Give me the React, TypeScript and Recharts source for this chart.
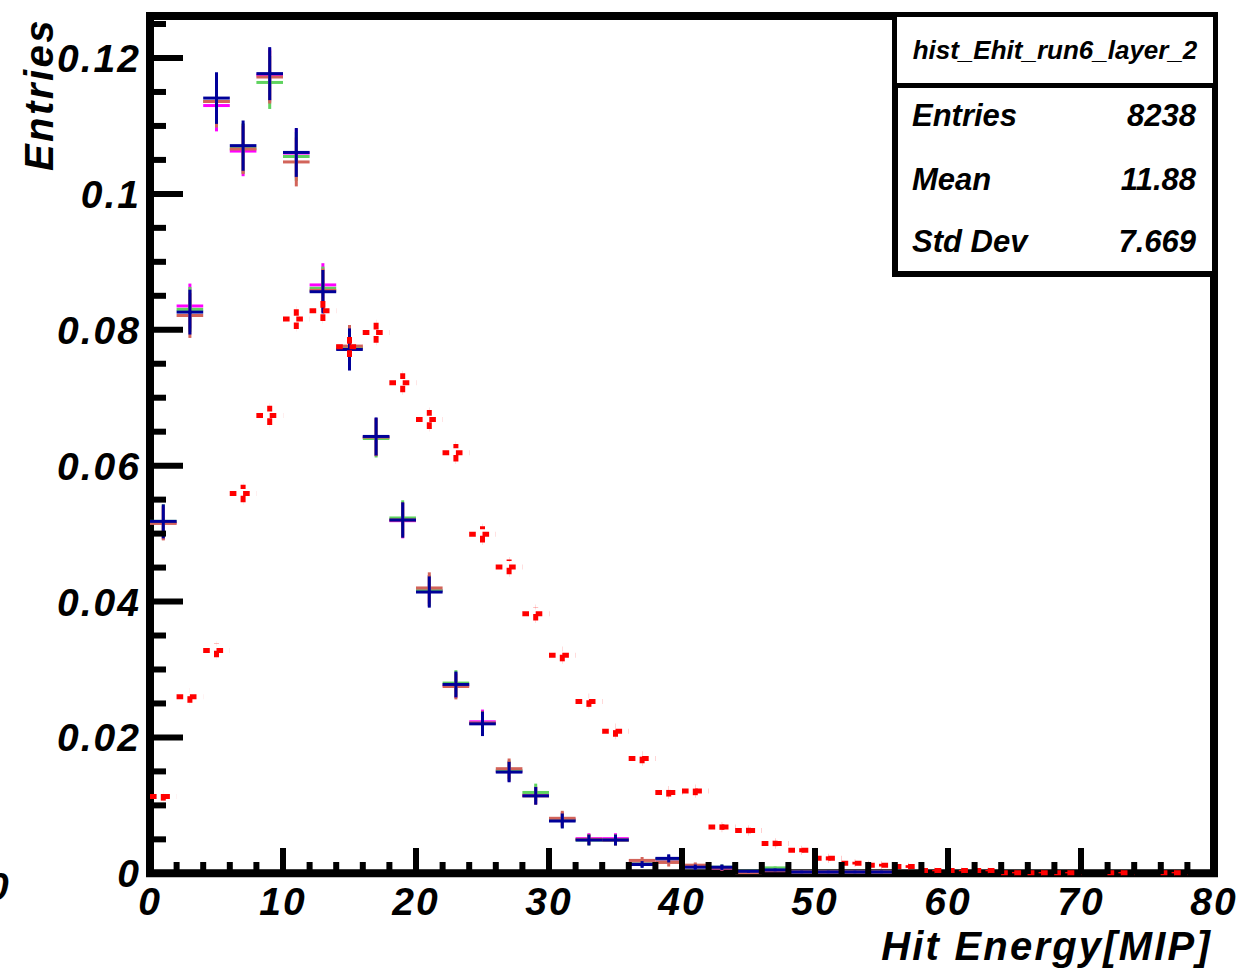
import React from 'react';
import { ComposedChart, Scatter, XAxis, YAxis, ErrorBar, ReferenceArea } from 'recharts';

// ---------- data ----------
const binCenters = [1, 3, 5, 7, 9, 11, 13, 15, 17, 19, 21, 23, 25, 27, 29, 31, 33, 35, 37, 39, 41, 43, 45, 47, 49, 51, 53, 55, 57, 59, 61, 63, 65, 67, 69, 71, 73, 75, 77, 79];
const BIN_HALF_WIDTH = 1;

const magentaValues = [0.0516, 0.0835, 0.113, 0.1063, 0.1175, 0.106, 0.0866, 0.0773, 0.0642, 0.0519, 0.0416, 0.0277, 0.0223, 0.015, 0.0115, 0.0079, 0.0051, 0.0051, 0.0015, 0.002, 0.001, 0.0008, 0.0002, 0.0004, 0.0002, 0.0002, 0.0002, 0.0002, null, null, null, null, null, null, null, null, null, null, null, null];
const greenValues = [0.0518, 0.083, 0.1136, 0.1067, 0.1164, 0.1055, 0.0861, 0.0773, 0.064, 0.0523, 0.0416, 0.028, 0.0221, 0.0151, 0.0119, 0.0078, 0.0049, 0.0049, 0.0014, 0.0021, 0.001, 0.0009, 0.0003, 0.0008, 0.0002, 0.0002, 0.0002, 0.0002, null, null, null, null, null, null, null, null, null, null, null, null];
const salmonValues = [0.0515, 0.0821, 0.1136, 0.1066, 0.1172, 0.1047, 0.0858, 0.0776, 0.0642, 0.052, 0.042, 0.0275, 0.0221, 0.0154, 0.0114, 0.0081, 0.005, 0.0049, 0.0019, 0.0016, 0.0012, 0.0008, 0.0001, 0.0004, 0.0002, 0.0002, 0.0002, 0.0002, null, null, null, null, null, null, null, null, null, null, null, null];
const blueValues = [0.0518, 0.0826, 0.1141, 0.1071, 0.1177, 0.1061, 0.0856, 0.0771, 0.0643, 0.052, 0.0414, 0.0278, 0.022, 0.0149, 0.0114, 0.0077, 0.0049, 0.0049, 0.0013, 0.0022, 0.0009, 0.0009, 0.0003, 0.0005, 0.0002, 0.0002, 0.0002, 0.0002, null, null, null, null, null, null, null, null, null, null, null, null];
const pointErrors = [0.0025, 0.0033, 0.0038, 0.0037, 0.0039, 0.0036, 0.0032, 0.0031, 0.0028, 0.0026, 0.0023, 0.0019, 0.0018, 0.0015, 0.0013, 0.0011, 0.0008, 0.0008, 0.0005, 0.0006, 0.0004, 0.0004, 0.0002, 0.0002, 0.0002, 0.0002, 0.0002, 0.0002, null, null, null, null, null, null, null, null, null, null, null, null];

const redValues = [0.0113, 0.026, 0.0328, 0.0559, 0.0674, 0.0816, 0.0828, 0.0775, 0.0796, 0.0722, 0.0668, 0.0619, 0.0499, 0.0451, 0.0382, 0.0321, 0.0253, 0.0209, 0.0169, 0.0119, 0.0121, 0.0068, 0.0063, 0.0044, 0.0034, 0.0022, 0.0015, 0.0012, 0.001, 0.0004, 0.0004, 0.0004, 0.0001, 0.0001, 0.0001, null, 0.0001, null, 0.0001, null];
const redErrors = [0.0006, 0.0009, 0.001, 0.0013, 0.0014, 0.0015, 0.0015, 0.0015, 0.0015, 0.0014, 0.0014, 0.0013, 0.0012, 0.0011, 0.001, 0.0009, 0.0008, 0.0008, 0.0007, 0.0006, 0.0006, 0.0004, 0.0004, 0.0004, 0.0003, 0.0003, 0.0002, 0.0002, 0.0002, 0.0001, 0.0001, 0.0001, 0.0001, 0.0001, 0.0001, null, 0.0001, null, 0.0001, null];

const xTicks = [0, 2, 4, 6, 8, 10, 12, 14, 16, 18, 20, 22, 24, 26, 28, 30, 32, 34, 36, 38, 40, 42, 44, 46, 48, 50, 52, 54, 56, 58, 60, 62, 64, 66, 68, 70, 72, 74, 76, 78, 80];
const xMajorTicks = [0, 10, 20, 30, 40, 50, 60, 70, 80];
const xMajorLabels = ['0', '10', '20', '30', '40', '50', '60', '70', '80'];
const yTicks = [0, 0.005, 0.01, 0.015, 0.02, 0.025, 0.03, 0.035, 0.04, 0.045, 0.05, 0.055, 0.06, 0.065, 0.07, 0.075, 0.08, 0.085, 0.09, 0.095, 0.1, 0.105, 0.11, 0.115, 0.12, 0.125];
const yMajorTicks = [0, 0.02, 0.04, 0.06, 0.08, 0.1, 0.12];
const yMajorLabels = ['0', '0.02', '0.04', '0.06', '0.08', '0.1', '0.12'];

const X_DOMAIN: [number, number] = [0, 80];
const Y_DOMAIN: [number, number] = [0, 0.12618];

const statsTitle = 'hist_Ehit_run6_layer_2';
const statsLabels = ['Entries', 'Mean', 'Std Dev'];
const statsValues = ['8238', '11.88', '7.669'];

// ---------- helpers ----------
const FONT = "'Liberation Sans', Arial, Helvetica, sans-serif";

function buildSeries(values: (number | null)[], errors: (number | null)[]) {
  return binCenters
    .map((x, i) => ({ x, y: values[i], ey: errors[i], ex: BIN_HALF_WIDTH }))
    .filter((d) => d.y !== null && d.y !== undefined);
}

const magentaData = buildSeries(magentaValues, pointErrors);
const greenData = buildSeries(greenValues, pointErrors);
const salmonData = buildSeries(salmonValues, pointErrors);
const blueData = buildSeries(blueValues, pointErrors);
const redData = buildSeries(redValues, redErrors);

const EmptyShape = () => <g />;

const YTick = (props: any) => {
  const { x, y, payload } = props;
  const idx = yMajorTicks.indexOf(payload.value);
  const major = idx >= 0;
  return (
    <g>
      <line x1={x} x2={x + (major ? 33 : 16)} y1={y} y2={y} stroke="#000" strokeWidth={6} />
      {major && (
        <text x={x - 9} y={y + 14} textAnchor="end" fontFamily={FONT} fontSize={39} fontWeight="bold" fontStyle="italic" letterSpacing={2} fill="#000">
          {yMajorLabels[idx]}
        </text>
      )}
    </g>
  );
};

const XTick = (props: any) => {
  const { x, y, payload } = props;
  const idx = xMajorTicks.indexOf(payload.value);
  const major = idx >= 0;
  return (
    <g>
      <line x1={x} x2={x} y1={y} y2={y - (major ? 26 : 12)} stroke="#000" strokeWidth={6} />
      {major && (
        <text x={x} y={y + 41} textAnchor="middle" fontFamily={FONT} fontSize={39} fontWeight="bold" fontStyle="italic" letterSpacing={2} fill="#000">
          {xMajorLabels[idx]}
        </text>
      )}
    </g>
  );
};

const YTitle = (props: any) => {
  const vb = props.viewBox || { x: 0, y: 16 };
  const tx = vb.x + 53;
  const ty = vb.y + 2;
  return (
    <g>
      <text x={tx} y={ty} transform={`rotate(-90 ${tx} ${ty})`} textAnchor="end" fontFamily={FONT} fontSize={40} fontStyle="italic" fontWeight="bold" letterSpacing={2.5} fill="#000">
        Entries
      </text>
      <text x={vb.x - 13} y={vb.y + 884} fontFamily={FONT} fontSize={39} fontWeight="bold" fontStyle="italic" fill="#000">
        0
      </text>
    </g>
  );
};

const XTitle = (props: any) => {
  const vb = props.viewBox || { x: 150, y: 874, width: 1064, height: 97 };
  return (
    <text x={vb.x + vb.width - 2} y={vb.y + 86} textAnchor="end" fontFamily={FONT} fontSize={40} fontStyle="italic" fontWeight="bold" letterSpacing={2.2} fill="#000">
      Hit Energy[MIP]
    </text>
  );
};

function HistSeries({ data, color, dashed }: { data: any[]; color: string; dashed?: boolean }) {
  const dash = dashed ? '6.6 6.7' : undefined;
  const sw = dashed ? 5 : 3;
  return (
    <Scatter data={data} dataKey="y" isAnimationActive={false} shape={EmptyShape} zIndex={800}>
      <ErrorBar dataKey="ex" direction="x" width={0} stroke={color} strokeWidth={sw} strokeDasharray={dash} isAnimationActive={false} zIndex={800} />
      <ErrorBar dataKey="ey" direction="y" width={0} stroke={color} strokeWidth={sw} strokeDasharray={dash} isAnimationActive={false} zIndex={800} />
    </Scatter>
  );
}

export default function App() {
  const statsRowY = [116, 180, 242];
  return (
    <div style={{ position: 'absolute', left: 0, top: 0, width: 1243, height: 971, background: '#fff', overflow: 'hidden' }}>
      <ComposedChart width={1243} height={971} margin={{ top: 16, right: 29, bottom: 0, left: 0 }}>
        <ReferenceArea x1={0} x2={80} y1={Y_DOMAIN[0]} y2={Y_DOMAIN[1]} fill="none" stroke="#000" strokeWidth={8} ifOverflow="visible" zIndex={-10} />
        <XAxis
          type="number"
          dataKey="x"
          domain={X_DOMAIN}
          ticks={xTicks}
          interval={0}
          tickSize={0}
          tickMargin={0}
          tick={XTick}
          tickLine={false}
          axisLine={false}
          height={97}
          label={<XTitle />}
        />
        <YAxis
          type="number"
          dataKey="y"
          domain={Y_DOMAIN}
          ticks={yTicks}
          interval={0}
          tickSize={0}
          tickMargin={0}
          tick={YTick}
          tickLine={false}
          axisLine={false}
          width={150}
          label={<YTitle />}
        />
        {HistSeries({ data: magentaData, color: '#ff00ff' })}
        {HistSeries({ data: greenData, color: '#5fd35f' })}
        {HistSeries({ data: salmonData, color: '#d2645a' })}
        {HistSeries({ data: blueData, color: '#000099' })}
        {HistSeries({ data: redData, color: '#ff0000', dashed: true })}
      </ComposedChart>

      {/* stats box */}
      <div style={{ position: 'absolute', left: 892, top: 82, width: 326, height: 195, border: '6px solid #000', boxSizing: 'border-box', background: '#fff' }} />
      <div style={{ position: 'absolute', left: 892, top: 12, width: 326, height: 76, border: '5px solid #000', boxSizing: 'border-box', background: '#fff' }} />
      <div style={{ position: 'absolute', left: 897, top: 17, width: 316, height: 66, lineHeight: '66px', textAlign: 'center', fontFamily: FONT, fontSize: 26, fontWeight: 'bold', fontStyle: 'italic', color: '#000', whiteSpace: 'nowrap' }}>
        {statsTitle}
      </div>
      {statsLabels.map((lab, i) => (
        <React.Fragment key={lab}>
          <div style={{ position: 'absolute', left: 912, top: statsRowY[i] - 17, height: 34, lineHeight: '34px', fontFamily: FONT, fontSize: 31, fontWeight: 'bold', fontStyle: 'italic', color: '#000', whiteSpace: 'nowrap' }}>
            {lab}
          </div>
          <div style={{ position: 'absolute', left: 1000, width: 196, top: statsRowY[i] - 17, height: 34, lineHeight: '34px', textAlign: 'right', fontFamily: FONT, fontSize: 31, fontWeight: 'bold', fontStyle: 'italic', color: '#000', whiteSpace: 'nowrap' }}>
            {statsValues[i]}
          </div>
        </React.Fragment>
      ))}
    </div>
  );
}
